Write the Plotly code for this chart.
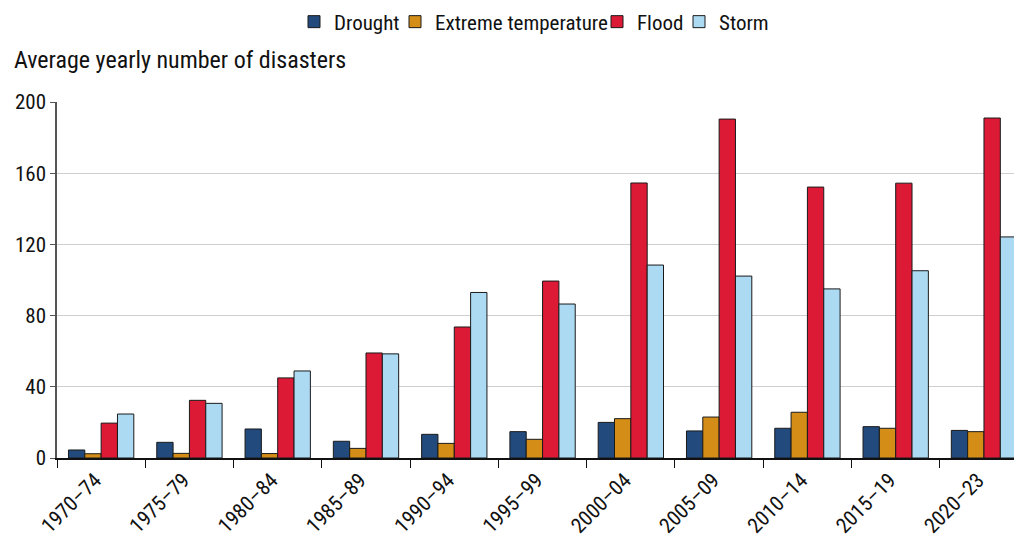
import plotly.graph_objects as go

categories = ["1970–74", "1975–79", "1980–84", "1985–89", "1990–94", "1995–99",
              "2000–04", "2005–09", "2010–14", "2015–19", "2020–23"]
drought = [4.5, 8.8, 16.3, 9.4, 13.3, 14.8, 20.0, 15.2, 16.7, 17.6, 15.5]
extreme_temp = [2.4, 2.6, 2.5, 5.4, 8.2, 10.5, 22.1, 23.0, 25.7, 16.7, 14.8]
flood = [19.6, 32.4, 45.0, 59.0, 73.6, 99.4, 154.5, 190.4, 152.2, 154.4, 191.0]
storm = [24.7, 30.7, 48.9, 58.5, 93.0, 86.5, 108.4, 102.2, 95.0, 105.2, 124.2]

series = [
    ("Drought", drought, "#224A7C"),
    ("Extreme temperature", extreme_temp, "#D48E17"),
    ("Flood", flood, "#DC1A36"),
    ("Storm", storm, "#ADDAF3"),
]

FONT = "Liberation Sans Narrow, Roboto Condensed, Arial Narrow, Roboto, sans-serif"

L, T, B = 57, 102, 80
PW, PH = 1014 - L, 538 - T - B

# legend text start positions (px) for each entry
legend_text_x = [334, 435, 637, 719]
legend_names = ["legend2", "legend3", "legend4", "legend5"]

fig = go.Figure()
for (name, vals, col), lg in zip(series, legend_names):
    fig.add_trace(go.Bar(
        x=categories, y=vals, name=name, legend=lg, showlegend=True,
        marker=dict(color=col, line=dict(color="#1a1a1a", width=1)),
    ))

legend_layout = {}
for lg, tx in zip(legend_names, legend_text_x):
    legend_layout[lg] = dict(
        orientation="h", x=(tx - 40 - L) / PW, xanchor="left",
        y=1.0 + (T - 22) / PH, yanchor="middle",
        font=dict(size=21), bgcolor="rgba(0,0,0,0)", borderwidth=0,
    )

fig.update_layout(
    width=1014, height=538,
    margin=dict(l=L, r=0, t=T, b=B, pad=0, autoexpand=False),
    paper_bgcolor="white", plot_bgcolor="white",
    barmode="group", bargap=0.26, bargroupgap=0,
    showlegend=True,
    font=dict(family=FONT, size=20, color="#111"),
    xaxis=dict(
        range=[-0.5, 10.34], showline=True, linecolor="#111", linewidth=1.5,
        ticks="outside", ticklen=8, tickcolor="#111", tickson="boundaries",
        tickangle=-45, tickfont=dict(size=21), showgrid=False, automargin=False,
        ticklabelshift=-6,
    ),
    yaxis=dict(
        range=[0, 200], tickvals=[0, 40, 80, 120, 160, 200],
        showline=True, linecolor="#555", linewidth=1.5,
        ticks="outside", ticklen=5, tickcolor="#555",
        gridcolor="#cfcfcf", gridwidth=1, zeroline=False,
        tickfont=dict(size=21), automargin=False,
    ),
    annotations=[dict(
        text="Average yearly number of disasters", xref="paper", yref="paper",
        x=(12 - L) / PW, y=1.0 + 26 / PH, xanchor="left", yanchor="bottom",
        showarrow=False, font=dict(size=24),
    )],
    **legend_layout,
)

fig.write_html("out.html", config={"displayModeBar": False},
               post_script="document.body.style.margin='0';document.body.style.overflow='hidden';")
